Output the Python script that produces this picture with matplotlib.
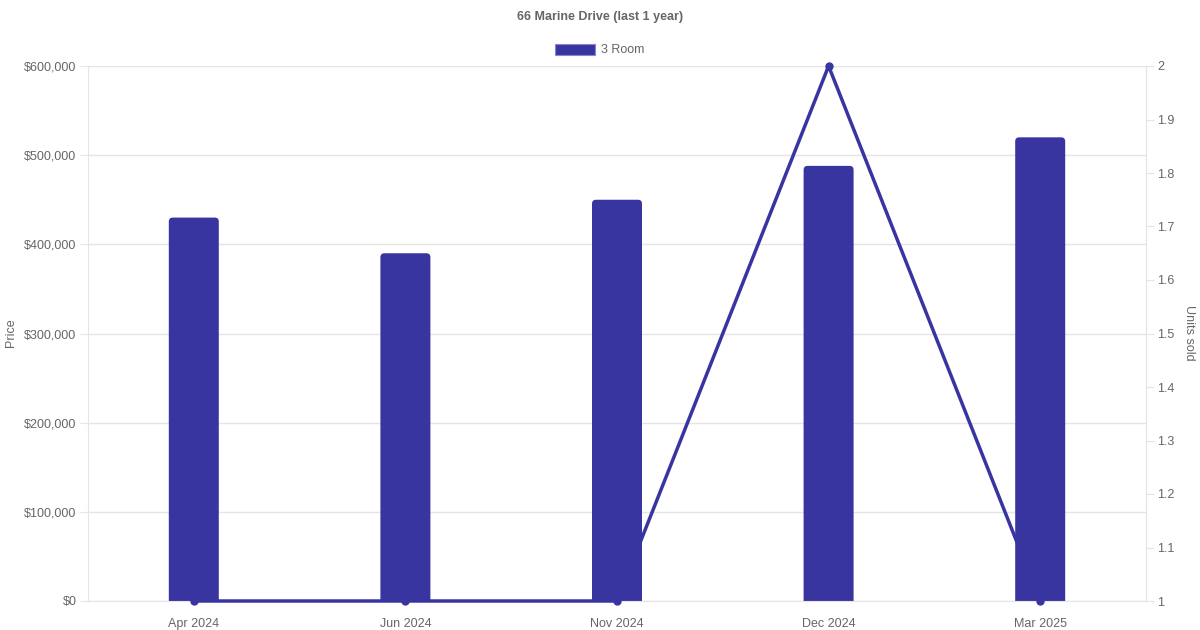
import matplotlib
matplotlib.use("Agg")
import matplotlib.pyplot as plt
from matplotlib.patches import FancyBboxPatch, Rectangle
from matplotlib.ticker import FuncFormatter, MultipleLocator

categories = ["Apr 2024", "Jun 2024", "Nov 2024", "Dec 2024", "Mar 2025"]
prices = [430000, 390000, 450000, 488000, 520000]
units_sold = [1, 1, 1, 2, 1]
series_name = "3 Room"
title = "66 Marine Drive (last 1 year)"

color = "#3835a0"
text_color = "#666666"
grid_color = "#e5e5e5"

plt.rcParams['font.family'] = ['Liberation Sans', 'DejaVu Sans']

W, H = 1200, 630
fig = plt.figure(figsize=(W / 100, H / 100), dpi=100)
left, right, top, bottom = 88, 1146, 66, 601
ax = fig.add_axes([left / W, (H - bottom) / H, (right - left) / W, (bottom - top) / H])

x = list(range(len(categories)))
bw = 50 / ((right - left) / len(categories))
bars = ax.bar(x, prices, width=bw, color=color, zorder=2)
ax.set_xlim(-0.5, len(categories) - 0.5)
ax.set_ylim(0, 600000)

# rounded top corners
px_x = (len(categories)) / (right - left)
px_y = 600000 / (bottom - top)
for b in bars:
    bx, by = b.get_x(), b.get_y()
    w, h = b.get_width(), b.get_height()
    b.set_visible(False)
    p = FancyBboxPatch((bx, by - 20000), w, h + 20000,
                       boxstyle=f"round,pad=0,rounding_size={4 * px_x}",
                       mutation_aspect=px_y / px_x,
                       facecolor=color, edgecolor="none", zorder=2)
    ax.add_patch(p)

ax.yaxis.set_major_locator(MultipleLocator(100000))
ax.yaxis.set_major_formatter(FuncFormatter(lambda v, p: f"${int(v):,}"))
ax.grid(axis='y', color=grid_color, linewidth=1, zorder=0)
ax.set_axisbelow(True)
ax.set_xticks(x)
ax.set_xticklabels(categories)
ax.tick_params(axis='x', length=0, pad=12, labelsize=9, labelcolor=text_color)
ax.tick_params(axis='y', length=6, width=0.8, color=grid_color, pad=2.2, labelsize=9, labelcolor=text_color)
ax.spines['top'].set_visible(False)
for s in ['left', 'bottom', 'right']:
    ax.spines[s].set_color(grid_color)

ax2 = ax.twinx()
ax2.patch.set_visible(False)
ax2.plot(x, units_sold, color=color, linewidth=2.5, marker='o', markersize=5, zorder=3, clip_on=False)
ax2.set_ylim(1, 2)
ax2.yaxis.set_major_locator(MultipleLocator(0.1))
ax2.yaxis.set_major_formatter(FuncFormatter(lambda v, p: f"{v:.1f}".rstrip('0').rstrip('.')))
ax2.tick_params(axis='y', length=6, width=0.8, color=grid_color, pad=2.2, labelsize=9, labelcolor=text_color)
for s in ['top', 'left', 'bottom']:
    ax2.spines[s].set_visible(False)
ax2.spines['right'].set_color(grid_color)

fig.text(11 / W, 1 - 333 / H, "Price", rotation=90, ha='center', va='center',
         fontsize=9, color=text_color)
fig.text(1189 / W, 1 - 333 / H, "Units sold", rotation=270, ha='center', va='center',
         fontsize=9, color=text_color)

fig.text(600 / W, 1 - 17 / H, title, ha='center', va='center', fontsize=9,
         fontweight='bold', color=text_color)

handle = Rectangle((0, 0), 1, 1, facecolor=color, edgecolor="#8a88c8", linewidth=0.8)
leg = fig.legend([handle], [series_name], loc='center', bbox_to_anchor=(600 / W, 1 - 50 / H),
                 frameon=False, fontsize=9, handlelength=3.2, handleheight=1.0,
                 handletextpad=0.5, labelcolor=text_color)

fig.savefig("out.png", dpi=100)
